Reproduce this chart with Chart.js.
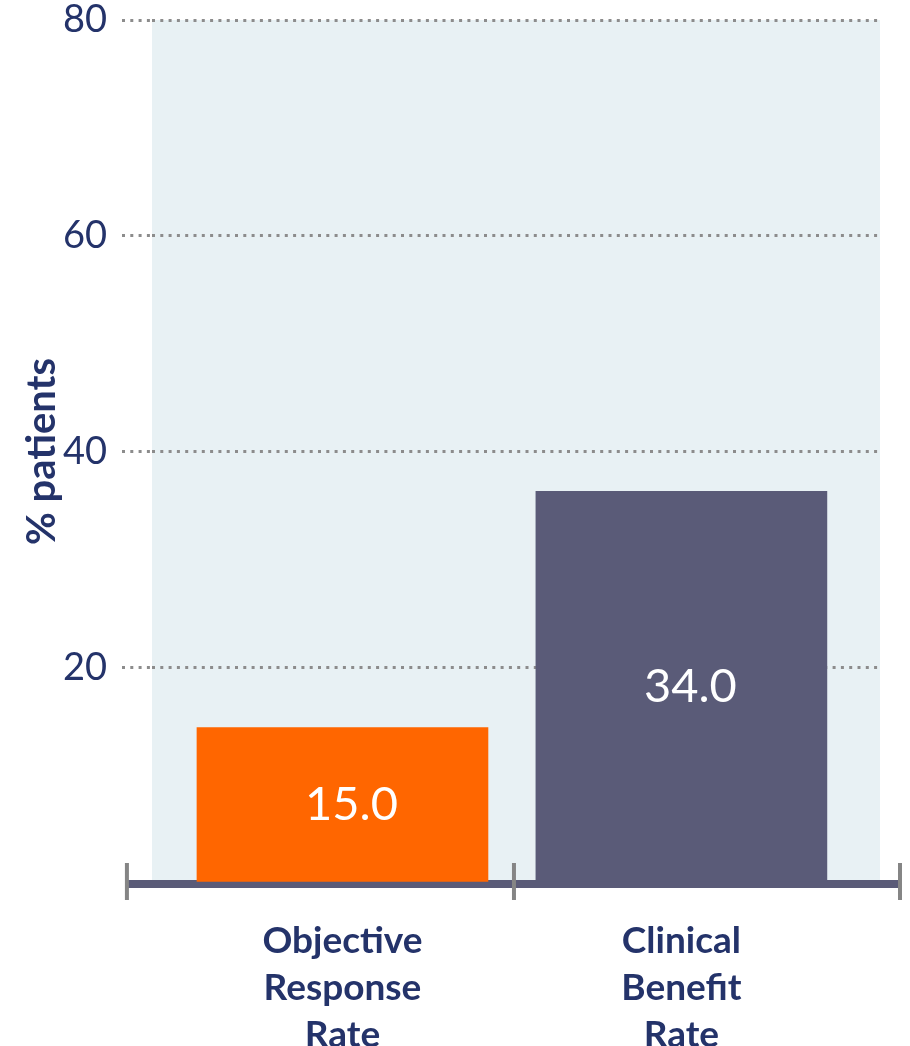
<!DOCTYPE html>
<html>
<head>
<meta charset="utf-8">
<script src="https://cdn.jsdelivr.net/npm/chart.js@4.4.0/dist/chart.umd.min.js"></script>
<style>
  html, body { margin: 0; padding: 0; background: #ffffff; }
  #wrap { width: 910px; height: 1046px; }
</style>
</head>
<body>
<div id="wrap"><canvas id="chart" width="910" height="1046"></canvas></div>
<script>
"use strict";
// bar chart: % patients by response measure

const categories = [["Objective", "Response", "Rate"], ["Clinical", "Benefit", "Rate"]];
const barValues = [14.4, 36.3];        // bar heights as drawn
const valueLabels = ["15.0", "34.0"];  // printed figures
const yTicks = [20, 40, 60, 80];

const C_NAVY = "#24336a";
const C_ORANGE = "#ff6600";
const C_SLATE = "#5a5b78";
const C_DOTS = "#8c8c8c";
const C_TICK = "#858585";
const C_PLOT = "#e8f1f4";
const FONT = 'Lato, "Open Sans", sans-serif';

// light panel behind the plot
const plotBg = {
  id: "plotBg",
  beforeDraw(chart) {
    const { ctx, chartArea: a } = chart;
    ctx.save();
    ctx.fillStyle = C_PLOT;
    ctx.fillRect(a.left, a.top, a.right - a.left, a.bottom - a.top);
    ctx.restore();
  },
};

// thick baseline with the three grey tick marks
const baseAxis = {
  id: "baseAxis",
  beforeDatasetsDraw(chart, args, opts) {
    const { ctx } = chart;
    const x = chart.scales.x, y = chart.scales.y;
    const y0 = y.getPixelForValue(0);
    const ends = opts.marks;
    ctx.save();
    ctx.strokeStyle = C_SLATE;
    ctx.lineWidth = 8;
    ctx.beginPath();
    ctx.moveTo(x.getPixelForValue(ends[0]), y0 + 1);
    ctx.lineTo(x.getPixelForValue(ends[ends.length - 1]), y0 + 1);
    ctx.stroke();
    ctx.strokeStyle = C_TICK;
    ctx.lineWidth = 4;
    ends.forEach((v) => {
      const px = x.getPixelForValue(v);
      ctx.beginPath();
      ctx.moveTo(px, y0 - 20);
      ctx.lineTo(px, y0 + 17);
      ctx.stroke();
    });
    ctx.restore();
  },
};

// white figures inside the bars
const barLabels = {
  id: "barLabels",
  afterDatasetsDraw(chart) {
    const { ctx } = chart;
    const meta = chart.getDatasetMeta(0);
    ctx.save();
    ctx.fillStyle = "#ffffff";
    ctx.font = "47px " + FONT;
    ctx.textAlign = "center";
    ctx.textBaseline = "middle";
    meta.data.forEach((bar, i) => {
      ctx.fillText(valueLabels[i], bar.x + 9, (bar.y + bar.base) / 2);
    });
    ctx.restore();
  },
};

new Chart(document.getElementById("chart").getContext("2d"), {
  type: "bar",
  data: {
    datasets: [{
      data: barValues.map((v, i) => ({ x: i, y: v })),
      backgroundColor: [C_ORANGE, C_SLATE],
      borderWidth: 0,
      barThickness: 291,
    }],
  },
  options: {
    responsive: false,
    animation: false,
    devicePixelRatio: 1,
    layout: { padding: { top: 20, right: 30, left: 0, bottom: 0 } },
    plugins: {
      legend: { display: false },
      tooltip: { enabled: false },
      baseAxis: { marks: [-0.636, 0.506, 1.645] },
    },
    scales: {
      x: {
        type: "linear",
        offset: false,
        min: -0.562,
        max: 1.586,
        afterBuildTicks: (s) => { s.ticks = categories.map((c, i) => ({ value: i })); },
        afterFit: (s) => { s.height = 163; s.paddingLeft = 0; s.paddingRight = 0; },
        grid: { display: false, drawTicks: false, offset: false },
        border: { display: false },
        ticks: {
          autoSkip: false,
          maxRotation: 0,
          padding: 34,
          color: C_NAVY,
          font: { family: FONT, size: 37, weight: "bold", lineHeight: 1.28 },
          callback: (v) => categories[v],
        },
      },
      y: {
        min: 0,
        max: 80,
        afterBuildTicks: (s) => { s.ticks = [0].concat(yTicks).map((v) => ({ value: v })); },
        afterFit: (s) => { s.width = 152; s.paddingTop = 0; s.paddingBottom = 0; },
        border: { display: false, dash: [3, 5.3] },
        grid: {
          color: (c) => (c.tick && c.tick.value === 0 ? "rgba(0,0,0,0)" : C_DOTS),
          tickColor: (c) => (c.tick && c.tick.value === 0 ? "rgba(0,0,0,0)" : C_DOTS),
          lineWidth: 3,
          tickWidth: 3,
          tickLength: 30,
          tickBorderDash: [3, 5.3],
        },
        ticks: {
          padding: 15,
          color: C_NAVY,
          font: { family: FONT, size: 38, lineHeight: 1 },
          callback: (v) => (v === 0 ? "" : v),
        },
        title: {
          display: true,
          text: "% patients",
          color: C_NAVY,
          padding: { top: 18, bottom: 0 },
          font: { family: FONT, size: 40, weight: "bold" },
        },
      },
    },
  },
  plugins: [plotBg, baseAxis, barLabels],
});
</script>
</body>
</html>
